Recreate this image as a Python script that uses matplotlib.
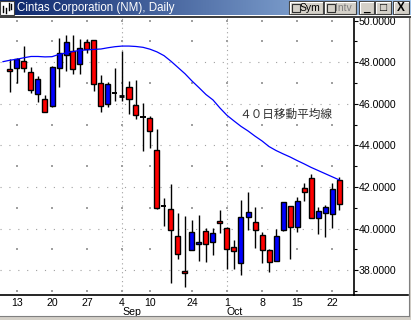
import matplotlib
matplotlib.use('Agg')
import matplotlib.pyplot as plt
import numpy as np
from matplotlib.patches import Rectangle

# ---------------- data ----------------
bar_idx = list(range(-1, 47))   # trading-day index (0 = Aug 13)
opens = [47.66, 47.71, 48.06, 47.52, 46.46, 46.22, 45.92, 47.71, 48.33, 48.54,
         47.90, 48.96, 49.06, 46.99, 45.98, 46.51, 46.40, 46.80, 45.93, 45.39,
         45.30, 43.77, 41.11, 40.93, 39.63, 37.95, 38.96, 39.25, 39.87, 39.35,
         40.37, 40.02, 39.10, 38.34, 40.56, 40.31, 39.68, 38.98, 38.43, 39.94,
         41.08, 40.07, 41.94, 42.42, 40.50, 40.74, 40.69, 42.33]
closes = [47.57, 48.18, 47.71, 46.67, 47.18, 45.60, 47.76, 48.43, 48.96, 47.66,
          48.67, 48.62, 46.94, 45.92, 46.94, 46.51, 46.36, 46.22, 45.45, 45.39,
          44.68, 41.01, 41.11, 39.92, 38.77, 37.85, 39.83, 39.35, 39.25, 39.78,
          40.26, 39.01, 38.91, 40.55, 40.79, 39.92, 38.96, 38.38, 39.63, 41.27,
          40.07, 41.32, 41.78, 40.53, 40.84, 41.03, 41.89, 41.17]
highs = [48.14, 48.19, 48.78, 47.76, 47.34, 46.41, 47.82, 49.15, 49.31, 49.31,
         49.10, 49.12, 49.06, 47.39, 47.04, 47.71, 48.54, 47.10, 47.15, 46.06,
         45.42, 44.79, 41.46, 42.15, 40.75, 40.61, 40.42, 40.66, 40.02, 40.02,
         40.90, 40.08, 39.46, 41.38, 41.75, 41.03, 39.83, 39.04, 39.99, 41.27,
         41.11, 41.52, 42.20, 42.63, 41.03, 41.12, 42.20, 42.49]
lows = [46.59, 47.02, 47.55, 46.54, 46.11, 45.60, 45.87, 46.83, 47.60, 47.44,
        47.45, 48.46, 46.64, 45.63, 45.87, 46.14, 46.14, 45.50, 45.26, 43.75,
        43.90, 40.95, 40.13, 37.41, 38.56, 37.18, 38.96, 38.46, 38.42, 38.75,
        39.81, 38.05, 38.05, 37.79, 39.94, 39.09, 38.37, 37.93, 38.43, 39.91,
        38.56, 39.86, 41.35, 40.50, 39.73, 39.62, 40.05, 40.92]
doji_idx = [14, 15, 18, 21]

ma_idx = list(range(-2, 47))
ma_vals = [48.03, 48.10, 48.15, 48.22, 48.28, 48.28, 48.26, 48.27, 48.38, 48.45,
           48.52, 48.57, 48.60, 48.62, 48.64, 48.70, 48.75, 48.78, 48.78, 48.76,
           48.72, 48.63, 48.50, 48.32, 48.05, 47.75, 47.45, 47.10, 46.78, 46.45,
           46.19, 45.80, 45.45, 45.18, 44.92, 44.70, 44.45, 44.22, 43.95, 43.76,
           43.60, 43.45, 43.28, 43.12, 42.95, 42.80, 42.65, 42.50, 42.35]

tick_pos = [0, 5, 10, 15, 19, 25, 30, 35, 40, 45]
tick_labels = ['13', '20', '27', '4', '10', '24', '1', '8', '15', '22']
month_pos = [15, 30]
month_labels = ['Sep', 'Oct']
y_major = [38, 40, 42, 44, 46, 48, 50]
y_minor = [37, 39, 41, 43, 45, 47, 49]
title = 'Cintas Corporation (NM), Daily'
ma_label = '４０日移動平均線'

# ---------------- figure ----------------
W, H = 411, 320
fig = plt.figure(figsize=(W / 100, H / 100), dpi=100)
fig.patch.set_facecolor('white')
FONT = 'Liberation Sans'
FS = 7.6

def px_rect(x0, y0, x1, y1):
    return [x0 / W, 1 - y1 / H, (x1 - x0) / W, (y1 - y0) / H]

ax = fig.add_axes(px_rect(0, 18, 354, 295))
ax.set_xlim(-17 / 7, 337 / 7)
ax.set_ylim(50 - 274.3 / 20.8, 50 + 2.7 / 20.8)
ax.set_facecolor('white')
for s in ['left', 'top']:
    ax.spines[s].set_visible(False)
ax.spines['right'].set_linewidth(1.2)
ax.spines['bottom'].set_linewidth(1.2)

# grid
gcol = '#a0a0a0'
for yv in y_major[:-1]:
    ax.axhline(yv, color=gcol, lw=0.8, ls=(0, (1, 7)), zorder=0)
for xv in month_pos:
    ax.axvline(xv, color=gcol, lw=0.8, ls=(0, (1, 3)), zorder=0)
sx, sy = np.meshgrid(tick_pos, y_minor + [50])
ax.scatter(sx.ravel(), sy.ravel(), s=0.6, color=gcol, marker='s', lw=0, zorder=0)

# candles
bw = 5 / 7
for i, o, c, h, l in zip(bar_idx, opens, closes, highs, lows):
    ax.plot([i, i], [l, h], color='black', lw=1.0, zorder=2, solid_capstyle='butt')
    if i in doji_idx:
        ax.plot([i - bw / 2, i + bw / 2], [o, o], color='black',
                lw=2.0 if i == 15 else 1.4, zorder=3, solid_capstyle='butt')
        continue
    col = '#0000ff' if c > o else '#ff0000'
    ax.add_patch(Rectangle((i - bw / 2, min(o, c)), bw, abs(c - o),
                           facecolor=col, edgecolor='black', lw=1.0, zorder=3))

# moving average
ax.plot(ma_idx, ma_vals, color='#0000ff', lw=0.9, zorder=4)
ax.text(31.7, 45.5, ma_label, family=['Noto Sans CJK JP', 'DejaVu Sans'],
        fontsize=8.4, color='#303030', va='center', ha='left', zorder=5)

# axes ticks
ax.yaxis.tick_right()
ax.set_yticks(y_major)
ax.set_yticklabels(['%.4f' % v for v in y_major], family=FONT, fontsize=FS)
ax.set_yticks(y_minor, minor=True)
ax.tick_params(axis='y', which='major', length=3, width=0.8, pad=0.5, direction='out')
ax.tick_params(axis='y', which='minor', length=2, width=0.8, direction='out')
ax.set_xticks(tick_pos)
ax.set_xticklabels(tick_labels, family=FONT, fontsize=FS)
ax.tick_params(axis='x', length=0, pad=2)
for mp, ml in zip(month_pos, month_labels):
    ax.annotate(ml, xy=(mp, 0), xycoords=('data', 'axes fraction'),
                xytext=(0, -8.4), textcoords='offset points',
                ha='left', va='top', family=FONT, fontsize=FS)

# ---------------- frame decorations (pixel overlay) ----------------
ov = fig.add_axes([0, 0, 1, 1], zorder=10)
ov.set_xlim(0, W)
ov.set_ylim(H, 0)
ov.axis('off')
ov.patch.set_alpha(0)
# extend bottom axis line to right edge
ov.plot([354, 408], [295, 295], color='black', lw=1.2)
# bottom gray frame
ov.add_patch(Rectangle((0, 316.5), W, 4, facecolor='#d4d0c8', edgecolor='none'))
ov.plot([0, 409], [316.3, 316.3], color='#808080', lw=0.8)
ov.add_patch(Rectangle((408.5, 17), 3, 303, facecolor='#d4d0c8', edgecolor='none'))
ov.plot([408.5, 408.5], [17, 316.3], color='#808080', lw=0.8)

# title bar gradient
grad = np.linspace(0, 1, 256)
c0 = np.array([10, 36, 106]) / 255
c1 = np.array([166, 202, 240]) / 255
img = (c0[None, :] * (1 - grad[:, None]) + c1[None, :] * grad[:, None])[None, :, :]
ov.imshow(img, extent=(0, W, 15.5, 0), aspect='auto', zorder=1)
ov.add_patch(Rectangle((0, 15.5), W, 2, facecolor='#404040', edgecolor='none', zorder=2))
ov.text(17, 8, title, color='white', family=FONT, fontsize=8.3, va='center', ha='left', zorder=3)

# icon
ov.add_patch(Rectangle((0, 1), 14, 14, facecolor='#ffffff', edgecolor='#404040', lw=0.8, zorder=3))
for xx, y0, y1 in [(3, 6, 12), (6, 8, 13), (9, 3, 10), (11, 4, 9)]:
    ov.plot([xx, xx], [y0, y1], color='black', lw=1, zorder=4)

# buttons
def button(x0, x1, label, grey=False, box=False):
    ov.add_patch(Rectangle((x0, 1), x1 - x0, 13, facecolor='#d4d0c8',
                           edgecolor='#404040', lw=0.8, zorder=3))
    ov.plot([x0 + 0.5, x0 + 0.5, x1 - 1], [13, 1.6, 1.6], color='white', lw=0.8, zorder=4)
    tx = (x0 + x1) / 2
    if box:
        ov.add_patch(Rectangle((x0 + 2.5, 3.5), 8, 8, facecolor='#d4d0c8',
                               edgecolor='#303030', lw=0.8, zorder=4))
        tx = x0 + 11
        ov.text(tx, 8, label, color='#808080' if grey else 'black', family=FONT,
                fontsize=7.5, va='center', ha='left', zorder=5)
    else:
        ov.text(tx, 8, label, color='black', family=FONT, fontsize=8.5,
                va='center', ha='center', zorder=5, fontweight='bold')

button(289, 323, 'Sym', box=True)
button(324, 356, 'Intv', grey=True, box=True)
button(359, 374, '_')
button(375, 391, '□')
button(393, 409, 'X')

fig.savefig('out.png', dpi=100, facecolor=fig.get_facecolor())
